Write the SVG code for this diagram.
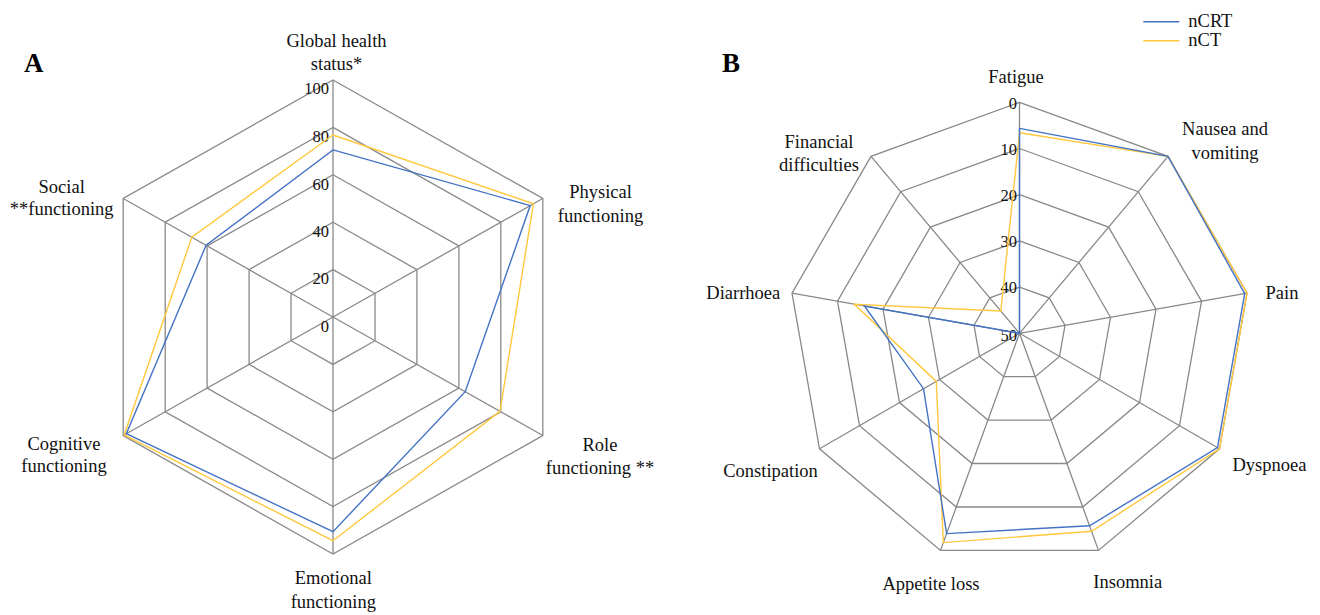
<svg xmlns="http://www.w3.org/2000/svg" width="1320" height="615" viewBox="0 0 1320 615">
<style>
.grid{fill:none;stroke:#898989;stroke-width:1.3}
.crt{fill:none;stroke:#4472C4;stroke-width:1.4;stroke-linejoin:miter}
.ct{fill:none;stroke:#FFC83D;stroke-width:1.4;stroke-linejoin:miter}
.lbl{font-family:"Liberation Serif","Times New Roman",serif;font-size:18.5px;fill:#111;text-anchor:middle}
.tick{font-family:"Liberation Serif","Times New Roman",serif;font-size:16.5px;fill:#111;text-anchor:end}
.panel{font-family:"Liberation Serif","Times New Roman",serif;font-size:27px;font-weight:bold;fill:#000}
.leg{font-family:"Liberation Serif","Times New Roman",serif;font-size:18.5px;fill:#111}
</style>
<rect width="1320" height="615" fill="#fff"/>

<!-- Panel A -->
<g id="chartA-grid">
<polygon class="grid" points="333,80 542.8,198.5 542.8,435.5 333,554 123.2,435.5 123.2,198.5"/>
<polygon class="grid" points="333,127.4 500.8,222.2 500.8,411.8 333,506.6 165.2,411.8 165.2,222.2"/>
<polygon class="grid" points="333,174.8 458.9,245.9 458.9,388.1 333,459.2 207.1,388.1 207.1,245.9"/>
<polygon class="grid" points="333,222.2 416.9,269.6 416.9,364.4 333,411.8 249.1,364.4 249.1,269.6"/>
<polygon class="grid" points="333,269.6 375,293.3 375,340.7 333,364.4 291,340.7 291,293.3"/>
<path class="grid" d="M333,317V80M333,317L542.8,198.5M333,317L542.8,435.5M333,317V554M333,317L123.2,435.5M333,317L123.2,198.5"/>
</g>
<g id="chartA-ticks">
<text class="tick" x="329" y="94">100</text>
<text class="tick" x="329" y="141.5">80</text>
<text class="tick" x="329" y="189.5">60</text>
<text class="tick" x="329" y="236.5">40</text>
<text class="tick" x="329" y="284">20</text>
<text class="tick" x="329" y="331.5">0</text>
</g>
<g id="chartA-connectors">
<polygon id="A-nCT" class="ct" points="333,135 533.4,203.8 500,411.3 333,540.7 124.2,434.9 191.8,237.2"/>
<polygon id="A-nCRT" class="crt" points="333,149.9 530.2,205.6 465.2,391.7 333,531.7 126.3,433.7 206.1,245.3"/>
</g>
<g id="A-global"><text class="lbl" x="336.5" y="46.7">Global health</text><text class="lbl" x="336.5" y="70">status*</text></g>
<g id="A-physical"><text class="lbl" x="600.5" y="197.7">Physical</text><text class="lbl" x="600.5" y="221.7">functioning</text></g>
<g id="A-role"><text class="lbl" x="600" y="450.7">Role</text><text class="lbl" x="600" y="474">functioning **</text></g>
<g id="A-emotional"><text class="lbl" x="333.3" y="584">Emotional</text><text class="lbl" x="333.3" y="608">functioning</text></g>
<g id="A-cognitive"><text class="lbl" x="64" y="450">Cognitive</text><text class="lbl" x="64" y="472">functioning</text></g>
<g id="A-social"><text class="lbl" x="61.7" y="192.7">Social</text><text class="lbl" x="61.7" y="215">**functioning</text></g>
<text class="panel" x="24" y="72">A</text>

<!-- Panel B -->
<g id="chartB-grid">
<polygon class="grid" points="1019.5,102.3 1168,156.4 1247,293.2 1219.5,448.8 1098.5,550.4 940.5,550.4 819.5,448.8 792,293.2 871,156.4"/>
<polygon class="grid" points="1019.5,148.5 1138.3,191.7 1201.5,301.2 1179.5,425.7 1082.7,507 956.3,507 859.5,425.7 837.5,301.2 900.7,191.7"/>
<polygon class="grid" points="1019.5,194.7 1108.6,227.1 1156,309.2 1139.5,402.6 1066.9,463.5 972.1,463.5 899.5,402.6 883,309.2 930.4,227.1"/>
<polygon class="grid" points="1019.5,240.9 1078.9,262.5 1110.5,317.3 1099.5,379.5 1051.1,420.1 987.9,420.1 939.5,379.5 928.5,317.3 960.1,262.5"/>
<polygon class="grid" points="1019.5,287.1 1049.2,297.9 1065,325.3 1059.5,356.4 1035.3,376.7 1003.7,376.7 979.5,356.4 974,325.3 989.8,297.9"/>
<path class="grid" d="M1019.5,333.3L1019.5,102.3M1019.5,333.3L1168,156.4M1019.5,333.3L1247,293.2M1019.5,333.3L1219.5,448.8M1019.5,333.3L1098.5,550.4M1019.5,333.3L940.5,550.4M1019.5,333.3L819.5,448.8M1019.5,333.3L792,293.2M1019.5,333.3L871,156.4"/>
</g>
<g id="chartB-ticks">
<text class="tick" x="1017" y="108.5">0</text>
<text class="tick" x="1017" y="154.7">10</text>
<text class="tick" x="1017" y="200.9">20</text>
<text class="tick" x="1017" y="247.1">30</text>
<text class="tick" x="1017" y="293.3">40</text>
<text class="tick" x="1017" y="340.5">50</text>
</g>
<g id="chartB-connectors">
<polygon id="B-nCT" class="ct" points="1019.5,132.8 1168,156.4 1247,293.2 1219.5,448.8 1091.6,531.3 943.3,542.6 936.3,381.4 854.3,304.2 1000.8,311"/>
<polygon id="B-nCRT" class="crt" points="1019.5,128.4 1168,156.4 1244.7,293.6 1217.5,447.6 1089.6,525.8 946.6,533.6 923.5,388.7 864.4,306 1019.5,333.3"/>
</g>
<g id="B-fatigue"><text class="lbl" x="1016" y="83.3">Fatigue</text></g>
<g id="B-nausea"><text class="lbl" x="1225" y="135">Nausea and</text><text class="lbl" x="1225" y="158.5">vomiting</text></g>
<g id="B-pain"><text class="lbl" x="1282" y="299.3">Pain</text></g>
<g id="B-dyspnoea"><text class="lbl" x="1269.5" y="471">Dyspnoea</text></g>
<g id="B-insomnia"><text class="lbl" x="1127.8" y="587.7">Insomnia</text></g>
<g id="B-appetite"><text class="lbl" x="931" y="590">Appetite loss</text></g>
<g id="B-constipation"><text class="lbl" x="770.5" y="476.7">Constipation</text></g>
<g id="B-diarrhoea"><text class="lbl" x="743.3" y="299.3">Diarrhoea</text></g>
<g id="B-financial"><text class="lbl" x="819" y="148">Financial</text><text class="lbl" x="819" y="171">difficulties</text></g>
<text class="panel" x="722" y="72">B</text>

<g id="legend">
<line x1="1143.3" y1="21.7" x2="1179.3" y2="21.7" stroke="#4472C4" stroke-width="1.4"/>
<line x1="1143.3" y1="40.7" x2="1179.3" y2="40.7" stroke="#FFC83D" stroke-width="1.4"/>
<text class="leg" x="1188.3" y="26.5">nCRT</text>
<text class="leg" x="1188.3" y="45.5">nCT</text>
</g>
</svg>
